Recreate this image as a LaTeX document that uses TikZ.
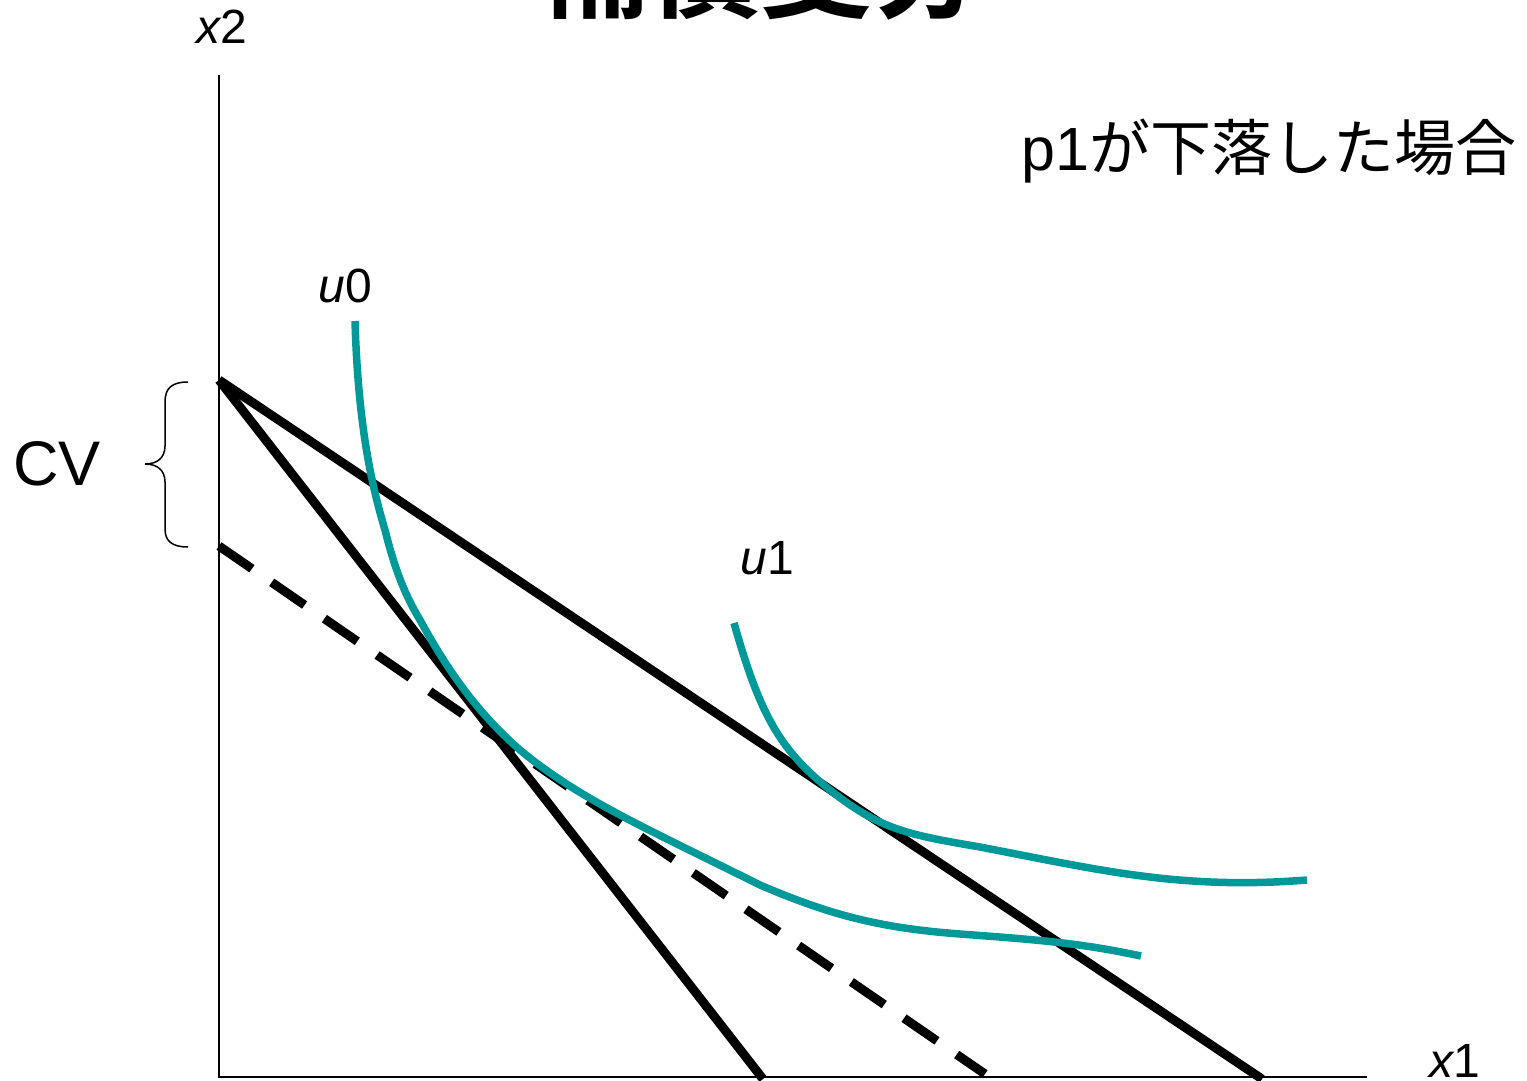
\documentclass[tikz,border=0pt]{standalone}
\usepackage{fontspec}
\setmainfont{Liberation Sans}
\newfontfamily\cjk{Noto Sans CJK JP}
\newfontfamily\cjkb{Noto Sans CJK JP Bold}
\definecolor{teal1}{RGB}{0,153,153}
\tikzset{
  axis/.style={line width=2pt, black},
  budget/.style={line width=9pt, black},
  indiff/.style={line width=7.5pt, teal1},
  lbl/.style={inner sep=0pt, font=\fontsize{48}{50}\selectfont},
}
\begin{document}
\begin{tikzpicture}[x=1pt,y=-1pt]
\useasboundingbox (0,0) rectangle (1527,1081);
% title (cut off at top)
\node[anchor=base, inner sep=0pt, font=\cjkb\fontsize{112}{112}\selectfont] (title) at (760,10) {補償変分};
% axes
\coordinate (O) at (219,1077);
\coordinate (ytop) at (219,75);
\coordinate (xend) at (1367,1077);
\draw[axis] (ytop) -- (O) -- (xend);
\node[lbl, anchor=base] (x2) at (222,44) {\itshape x\upshape 2};
\node[lbl, anchor=base] (x1) at (1455,1077) {\itshape x\upshape 1};
% budget lines
\coordinate (A) at (219,380);
\coordinate (B) at (763,1079);
\coordinate (C) at (1262,1079);
\coordinate (D) at (219,546);
\coordinate (E) at (985,1074);
\draw[budget] (A) -- (B);
\draw[budget] (A) -- (C);
\draw[budget, dash pattern=on 40pt off 24pt] (D) -- (E);
% indifference curves
\draw[indiff] (355,321) .. controls (358,420) and (370,480) .. (385,530)
  .. controls (395,570) and (405,595) .. (420,620)
  .. controls (450,675) and (480,715) .. (520,750)
  .. controls (580,800) and (650,830) .. (760,885)
  .. controls (830,915) and (880,928) .. (960,934)
  .. controls (1040,940) and (1080,943) .. (1141,956);
\draw[indiff] (734,623) .. controls (760,715) and (780,750) .. (830,790)
  .. controls (880,830) and (910,835) .. (980,847)
  .. controls (1100,870) and (1180,890) .. (1307,880);
\node[lbl, anchor=base] (u0) at (345,302) {\itshape u\upshape 0};
\node[lbl, anchor=base] (u1) at (767,574) {\itshape u\upshape 1};
% brace
\draw[line width=1.5pt] (188,382) .. controls (172,382) and (165,388) .. (165,402)
  -- (165,446) .. controls (165,458) and (157,464) .. (145,464)
  .. controls (157,464) and (165,470) .. (165,482)
  -- (165,529) .. controls (165,541) and (172,547) .. (188,547);
\node[inner sep=0pt, anchor=base, font=\fontsize{63}{65}\selectfont] (cv) at (57,485) {CV};
% note
\node[inner sep=0pt, anchor=base east, font=\fontsize{61}{63}\selectfont] (note) at (1517,170) {p1{\cjk が下落した場合}};
\end{tikzpicture}
\end{document}
